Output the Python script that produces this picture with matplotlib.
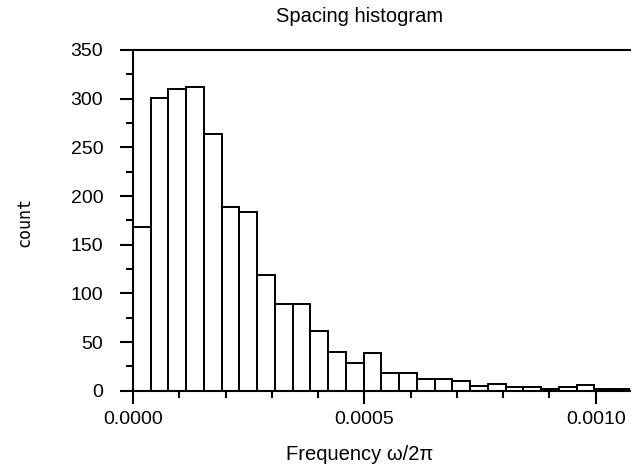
import numpy as np
import matplotlib
matplotlib.use('Agg')
import matplotlib.pyplot as plt
from matplotlib.ticker import MultipleLocator, FixedLocator

counts = [168, 301, 310, 312, 264, 189, 184, 119, 89, 89, 61, 40, 28, 39,
          18, 18, 12, 12, 10, 5, 7, 4, 4, 2, 4, 6, 2, 2]
bin_width = 3.834e-5
x_ticks = [0.0, 0.0005, 0.0010]
x_tick_labels = ['0.0000', '0.0005', '0.0010']
y_ticks = [0, 50, 100, 150, 200, 250, 300, 350]

plt.rcParams['font.family'] = ['Liberation Sans', 'DejaVu Sans']

fig = plt.figure(figsize=(6.36, 4.72), dpi=100)
ax = fig.add_axes([133 / 636, 1 - 390.7 / 472, (630 - 133) / 636, (390.7 - 50) / 472])

lefts = np.arange(len(counts)) * bin_width
ax.bar(lefts, counts, width=bin_width, align='edge', color='white',
       edgecolor='black', linewidth=1.4, zorder=2)

ax.set_xlim(0, 0.001074)
ax.set_ylim(0, 350)

ax.xaxis.set_major_locator(FixedLocator(x_ticks))
ax.set_xticklabels(x_tick_labels)
ax.xaxis.set_minor_locator(MultipleLocator(0.0001))
ax.yaxis.set_major_locator(FixedLocator(y_ticks))
ax.yaxis.set_minor_locator(MultipleLocator(25))

ax.tick_params(axis='both', which='major', length=9.5, width=1.5, labelsize=14)
ax.tick_params(axis='both', which='minor', length=5, width=1.5)
ax.tick_params(axis='x', which='major', pad=5)
ax.tick_params(axis='y', which='major', pad=12)

for side in ['left', 'bottom', 'top']:
    ax.spines[side].set_linewidth(1.5)
ax.spines['right'].set_visible(False)

fig.text(360 / 636, 1 - 16 / 472, 'Spacing histogram', ha='center', va='center', fontsize=14.5)
fig.text(360 / 636, 1 - 454 / 472, 'Frequency \u03c9/2\u03c0', ha='center', va='center', fontsize=14.5)
fig.text(24 / 636, 1 - 222 / 472, 'count', rotation=90, ha='center', va='center',
         fontsize=12, family='DejaVu Sans Mono')

fig.savefig('out.png', dpi=100)
